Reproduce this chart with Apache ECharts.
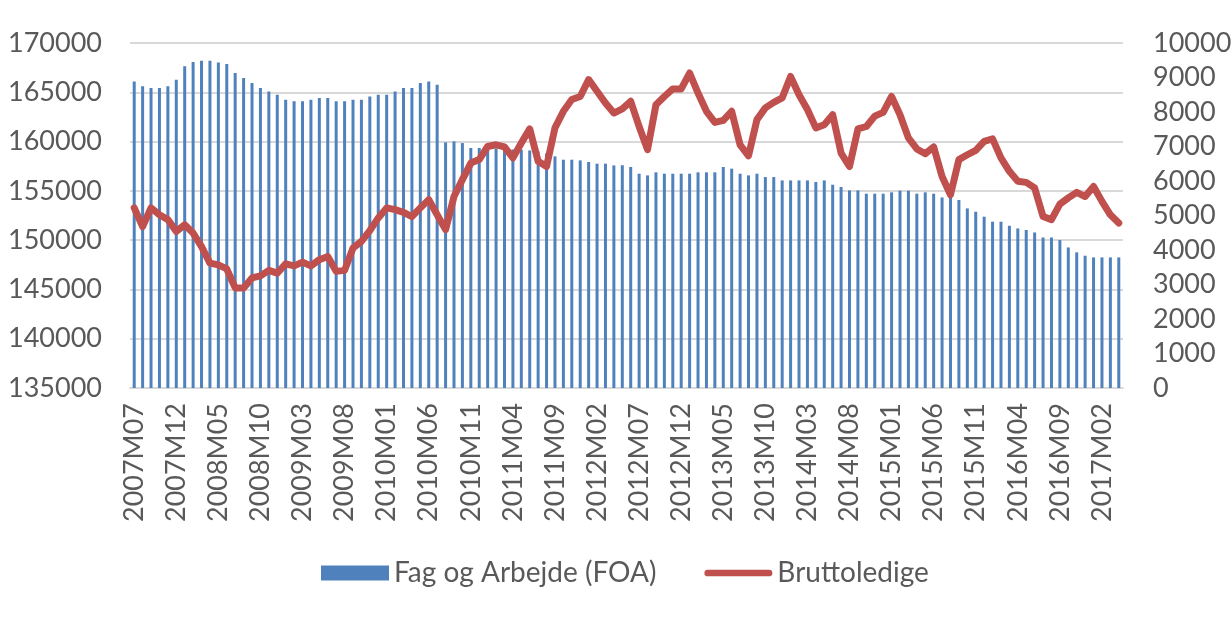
<!DOCTYPE html>
<html>
<head>
<meta charset="utf-8">
<title>FOA og bruttoledige</title>
<script src="https://cdn.jsdelivr.net/npm/echarts@6/dist/echarts.min.js"></script>
<style>
    html, body { margin: 0; padding: 0; background: #fff; }
    #chart { width: 1232px; height: 620px; }
</style>
</head>
<body>
<div id="chart"></div>
<script>
// 数据：2007M07 - 2017M04，每月一个
const startYear = 2007;
const startMonth = 7;
const monthCount = 118;

// 类目（月份标签）
let categories = [];
for (let i = 0; i < monthCount; i++) {
    let m = startMonth - 1 + i;
    let y = startYear + Math.floor(m / 12);
    let mm = (m % 12) + 1;
    categories.push(y + 'M' + (mm < 10 ? '0' + mm : mm));
}

// 柱状：Fag og Arbejde (FOA)，左轴
const foaValues = [
    166100, 165600, 165430, 165430, 165600, 166280, 167630, 168070, 168200, 168200,
    168030, 167870, 166960, 166450, 165940, 165430, 165090, 164750, 164250, 164080,
    164080, 164250, 164420, 164420, 164080, 164080, 164250, 164250, 164580, 164750,
    164750, 165090, 165430, 165430, 165940, 166100, 165770, 159920, 160020, 159850,
    159350, 159350, 159350, 159300, 159250, 159200, 159180, 159100, 159000, 158800,
    158500, 158160, 158160, 158090, 157930, 157760, 157760, 157580, 157600, 157420,
    156740, 156570, 156880, 156740, 156740, 156740, 156740, 156880, 156880, 156880,
    157420, 157250, 156740, 156570, 156740, 156400, 156400, 156060, 156060, 156060,
    156060, 155900, 156060, 155620, 155390, 155050, 155050, 154710, 154710, 154710,
    154850, 155020, 155020, 154710, 154850, 154710, 154330, 154300, 154070, 153220,
    152880, 152380, 151870, 151870, 151460, 151190, 151030, 150780, 150270, 150270,
    150010, 149260, 148760, 148420, 148250, 148250, 148250, 148250
];

// 折线：Bruttoledige，右轴
const bruttoValues = [
    5220, 4680, 5220, 5020, 4880, 4540, 4730, 4490, 4100, 3620,
    3570, 3450, 2900, 2900, 3190, 3250, 3410, 3330, 3600, 3540,
    3650, 3540, 3720, 3810, 3380, 3410, 4060, 4250, 4560, 4930,
    5220, 5170, 5090, 4970, 5220, 5460, 5020, 4590, 5550, 6040,
    6520, 6620, 7000, 7050, 6990, 6670, 7100, 7510, 6570, 6420,
    7540, 8020, 8360, 8450, 8940, 8600, 8260, 7970, 8090, 8310,
    7580, 6910, 8210, 8450, 8670, 8670, 9130, 8550, 8020, 7700,
    7760, 8020, 7050, 6730, 7780, 8120, 8280, 8410, 9030, 8500,
    8070, 7540, 7630, 7920, 6810, 6420, 7510, 7580, 7880, 7990,
    8450, 7920, 7250, 6930, 6790, 6990, 6130, 5600, 6620, 6760,
    6890, 7150, 7220, 6670, 6280, 5990, 5960, 5800, 4970, 4880,
    5330, 5510, 5670, 5550, 5840, 5410, 5020, 4780
];

// 轴刻度
const leftAxis = { min: 135000, max: 170000, interval: 5000 };
const rightAxis = { min: 0, max: 10000, interval: 1000 };

const textColor = '#595959';
const fontFamily = 'Lato';

// 不要千位分隔符
function plainNumber(value) {
    return String(value);
}

let option = {
    animation: false,
    backgroundColor: '#ffffff',
    grid: {
        left: 130,
        right: 109,
        top: 43,
        bottom: 232,
        containLabel: false,
        outerBoundsMode: 'none'
    },
    legend: {
        left: 316,
        top: 554,
        itemWidth: 68,
        itemHeight: 15,
        itemGap: 48,
        textStyle: {
            color: textColor,
            fontFamily: fontFamily,
            fontSize: 28
        },
        data: [
            { name: 'Fag og Arbejde (FOA)', icon: 'rect' },
            { name: 'Bruttoledige', icon: 'path://M3.5,0h64a3.5,3.5,0,0,1,0,7h-64a3.5,3.5,0,0,1,0,-7z' }
        ]
    },
    xAxis: {
        type: 'category',
        data: categories,
        boundaryGap: true,
        axisLine: { lineStyle: { color: '#d9d9d9', width: 2 } },
        axisTick: { show: false },
        axisLabel: {
            interval: 4,
            rotate: 90,
            margin: 15,
            color: textColor,
            fontFamily: fontFamily,
            fontSize: 27
        }
    },
    yAxis: [
        {
            type: 'value',
            position: 'left',
            min: leftAxis.min,
            max: leftAxis.max,
            interval: leftAxis.interval,
            axisLine: { show: false },
            axisTick: { show: false },
            splitLine: { lineStyle: { color: '#d9d9d9', width: 2 } },
            axisLabel: {
                margin: 28,
                color: textColor,
                fontFamily: fontFamily,
                fontSize: 27,
                formatter: plainNumber
            }
        },
        {
            type: 'value',
            position: 'right',
            min: rightAxis.min,
            max: rightAxis.max,
            interval: rightAxis.interval,
            axisLine: { show: false },
            axisTick: { show: false },
            splitLine: { show: false },
            axisLabel: {
                margin: 30,
                color: textColor,
                fontFamily: fontFamily,
                fontSize: 27,
                formatter: plainNumber
            }
        }
    ],
    series: [
        {
            name: 'Fag og Arbejde (FOA)',
            type: 'bar',
            yAxisIndex: 0,
            barWidth: 3,
            itemStyle: { color: '#4f81bd' },
            data: foaValues
        },
        {
            name: 'Bruttoledige',
            type: 'line',
            yAxisIndex: 1,
            symbol: 'none',
            lineStyle: { color: '#c0504d', width: 7, cap: 'round', join: 'round' },
            itemStyle: { color: '#c0504d' },
            data: bruttoValues
        }
    ]
};

let chart = echarts.init(document.getElementById('chart'));
chart.setOption(option);

window.onresize = function () {
    chart.resize();
};
</script>
</body>
</html>
